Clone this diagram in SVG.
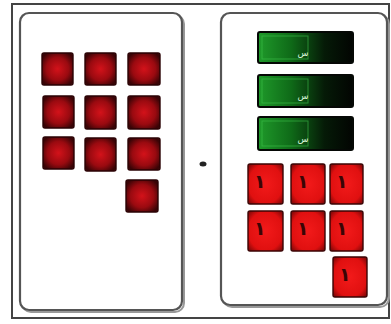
<svg xmlns="http://www.w3.org/2000/svg" width="391" height="324" viewBox="0 0 391 324">
<defs>
<radialGradient id="dark" cx="50%" cy="50%" r="60%">
<stop offset="0" stop-color="#d3121a"/>
<stop offset="0.6" stop-color="#9a0a10"/>
<stop offset="1" stop-color="#3a0406"/>
</radialGradient>
<radialGradient id="bright" cx="50%" cy="50%" r="65%">
<stop offset="0" stop-color="#f21a1a"/>
<stop offset="0.75" stop-color="#e01010"/>
<stop offset="1" stop-color="#8a0808"/>
</radialGradient>
<linearGradient id="green" x1="0" y1="0" x2="1" y2="0">
<stop offset="0" stop-color="#1f9a2a"/>
<stop offset="0.35" stop-color="#0f6a18"/>
<stop offset="0.7" stop-color="#051a07"/>
<stop offset="1" stop-color="#020402"/>
</linearGradient>
</defs>
<style>
.panel{fill:#fff;stroke:#555;stroke-width:2.2}
.shadow{fill:none;stroke:#999;stroke-width:2}
.dt{fill:url(#dark);stroke:#2a0204;stroke-width:1.4}
.bt{fill:url(#bright);stroke:#3a0505;stroke-width:1.4}
.gb{fill:url(#green);stroke:#050805;stroke-width:2}
.gl{fill:none;stroke:#3ec24a;stroke-width:1;opacity:0.6}
.gt{font-family:"DejaVu Sans",sans-serif;font-size:9px;fill:#d8f5d8;text-anchor:middle}
.rt{font-family:"DejaVu Sans",sans-serif;font-size:19px;font-weight:bold;fill:#3a0505}
</style>
<rect width="391" height="324" fill="#fff"/>
<rect x="12" y="4" width="377" height="314" fill="none" stroke="#444" stroke-width="2"/>
<g id="left-panel">
<rect x="22" y="15" width="162" height="297" rx="9" class="shadow"/>
<rect x="20" y="13" width="162" height="297" rx="9" class="panel"/>
</g>
<g id="right-panel">
<rect x="223" y="15" width="166" height="292" rx="9" class="shadow"/>
<rect x="221" y="13" width="166" height="292" rx="9" class="panel"/>
</g>
<g id="left-tiles">
<rect x="42" y="53" width="31" height="32" rx="2" class="dt"/>
<rect x="85" y="53" width="31" height="32" rx="2" class="dt"/>
<rect x="128" y="53" width="32" height="32" rx="2" class="dt"/>
<rect x="43" y="96" width="31" height="32" rx="2" class="dt"/>
<rect x="85" y="96" width="31" height="33" rx="2" class="dt"/>
<rect x="128" y="96" width="32" height="33" rx="2" class="dt"/>
<rect x="43" y="137" width="31" height="32" rx="2" class="dt"/>
<rect x="85" y="138" width="31" height="33" rx="2" class="dt"/>
<rect x="128" y="138" width="32" height="32" rx="2" class="dt"/>
<rect x="126" y="180" width="32" height="32" rx="2" class="dt"/>
</g>
<g id="dot"><ellipse cx="203" cy="164" rx="3.5" ry="2.5" fill="#222"/></g>
<g id="green-bars">
<rect x="258" y="32" width="95" height="31" rx="2" class="gb"/>
<rect x="262" y="36" width="46" height="23" class="gl"/>
<text x="303" y="56" class="gt">س</text>
<rect x="258" y="75" width="95" height="32" rx="2" class="gb"/>
<rect x="262" y="79" width="46" height="24" class="gl"/>
<text x="303" y="99" class="gt">س</text>
<rect x="258" y="117" width="95" height="33" rx="2" class="gb"/>
<rect x="262" y="121" width="46" height="25" class="gl"/>
<text x="303" y="142" class="gt">س</text>
</g>
<g id="right-tiles">
<rect x="248" y="164" width="35" height="40" rx="2" class="bt"/><text x="254" y="188" class="rt">١</text>
<rect x="291" y="164" width="34" height="40" rx="2" class="bt"/><text x="297" y="188" class="rt">١</text>
<rect x="330" y="164" width="33" height="40" rx="2" class="bt"/><text x="336" y="188" class="rt">١</text>
<rect x="248" y="211" width="35" height="40" rx="2" class="bt"/><text x="254" y="235" class="rt">١</text>
<rect x="291" y="211" width="34" height="40" rx="2" class="bt"/><text x="297" y="235" class="rt">١</text>
<rect x="330" y="211" width="33" height="40" rx="2" class="bt"/><text x="336" y="235" class="rt">١</text>
<rect x="333" y="257" width="34" height="40" rx="2" class="bt"/><text x="339" y="281" class="rt">١</text>
</g>
</svg>
